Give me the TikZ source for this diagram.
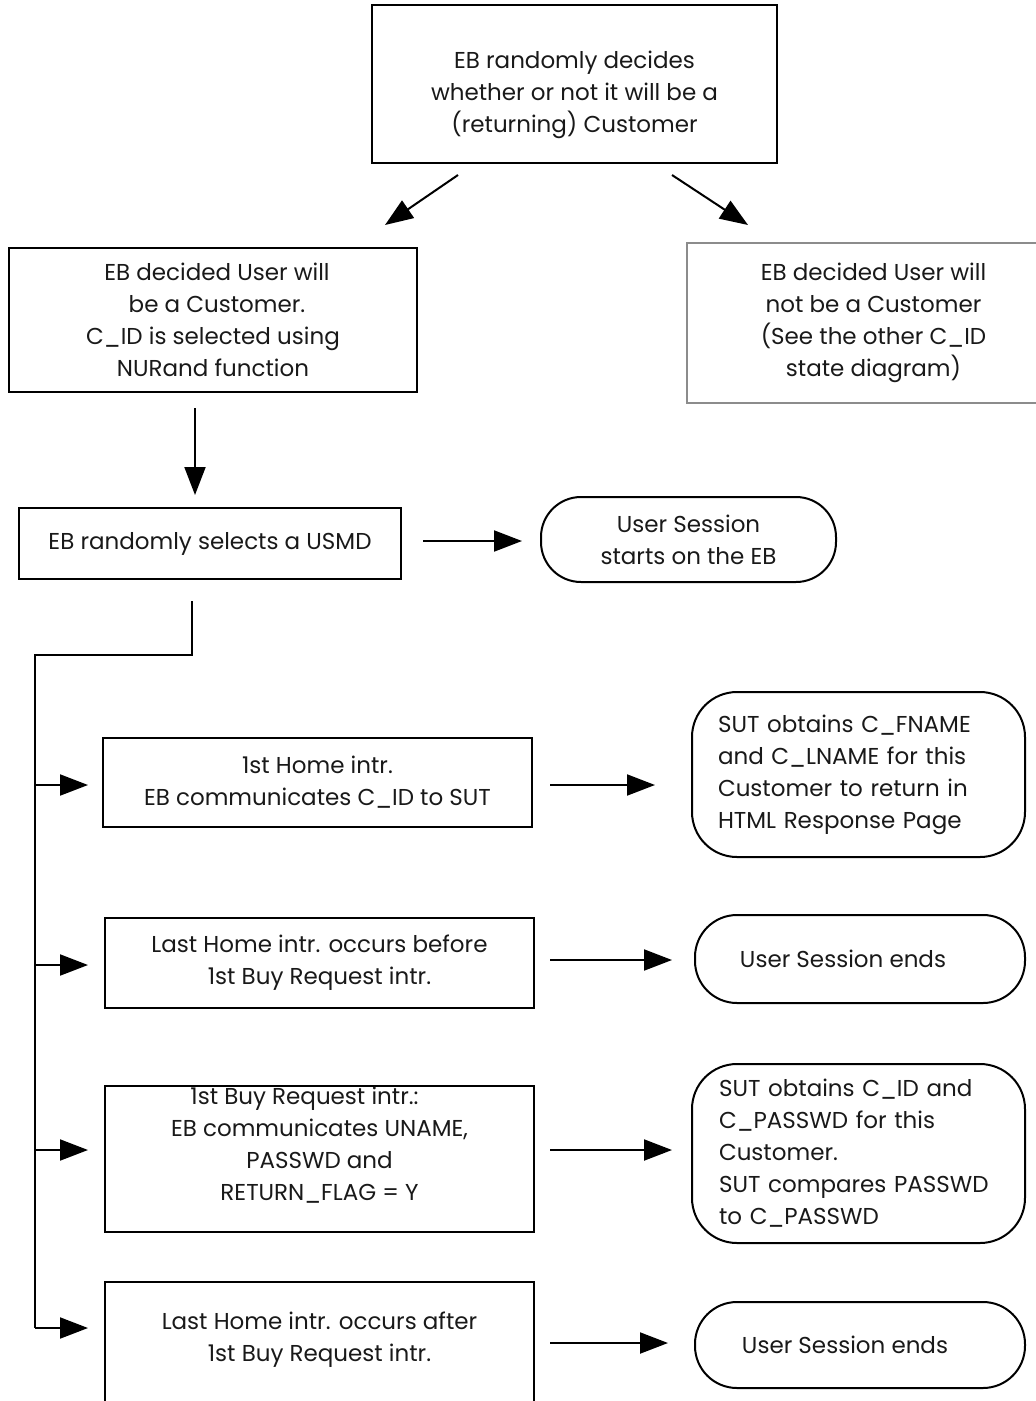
\documentclass[tikz,border=0pt]{standalone}
\usepackage{fontspec}
\setmainfont{Poppins}
\usetikzlibrary{arrows.meta}
\newcommand\diagfont{\fontsize{23}{32}\selectfont}
\begin{document}
\begin{tikzpicture}[x=1pt,y=-1pt,
  every node/.style={font=\diagfont, text=black!90},
  box/.style={draw=black, line width=2pt, rectangle, align=center, inner sep=0pt},
  graybox/.style={draw=black!45, line width=2pt, rectangle, align=center, inner sep=0pt},
  roundbox/.style={draw=black, line width=2pt, rectangle, rounded corners=42pt, align=center, inner sep=0pt},
  leftbox/.style={draw=black, line width=2pt, rectangle, rounded corners=45pt, align=left, inner sep=0pt},
  conn/.style={line width=2pt},
  arr/.style={line width=2pt, -{Triangle[length=28pt,width=21pt]}}]
\useasboundingbox (0,0) rectangle (1036,1401);

\node[box, minimum width=405pt, minimum height=158pt] (top) at (574.5,84)
  {\rule{0pt}{40pt}EB randomly decides\\whether or not it will be a\\(returning) Customer};
\node[box, minimum width=408pt, minimum height=144pt] (cust) at (213,320)
  {\hspace*{8pt}EB decided User will\\\hspace*{8pt}be a Customer.\\C\_ID is selected using\\NURand function};
\node[graybox, minimum width=373pt, minimum height=160pt] (notc) at (873.5,323)
  {EB decided User will\\not be a Customer\\(See the other C\_ID\\state diagram)};
\node[box, minimum width=382pt, minimum height=71pt] (usmd) at (210,543.5)
  {EB randomly selects a USMD};
\node[roundbox, minimum width=295pt, minimum height=85pt, rounded corners=40pt] (start) at (688.5,539.5)
  {User Session\\starts on the EB};

\node[box, minimum width=429pt, minimum height=89pt] (b1) at (317.5,782.5)
  {1st Home intr.\\EB communicates C\_ID to SUT};
\node[leftbox, minimum width=333pt, minimum height=165pt, text width=281pt] (s1) at (858.5,774.5)
  {SUT obtains C\_FNAME\\and C\_LNAME for this\\Customer to return in\\HTML Response Page};

\node[box, minimum width=429pt, minimum height=90pt] (b2) at (319.5,963)
  {Last Home intr. occurs before\\1st Buy Request intr.};
\node[roundbox, minimum width=330pt, minimum height=88pt] (s2) at (860,959)
  {User Session ends\hspace*{34pt}};

\node[box, minimum width=429pt, minimum height=146pt] (b3) at (319.5,1159)
  {1st Buy Request intr.:\hspace*{30pt}\\EB communicates UNAME,\\PASSWD and\\RETURN\_FLAG = Y\rule[-30pt]{0pt}{1pt}};
\node[leftbox, minimum width=333pt, minimum height=179pt, text width=279pt] (s3) at (858.5,1153.5)
  {SUT obtains C\_ID and\\C\_PASSWD for this\\Customer.\\SUT compares PASSWD\\to C\_PASSWD};

\node[box, minimum width=429pt, minimum height=130pt] (b4) at (319.5,1347)
  {Last Home intr. occurs after\\1st Buy Request intr.\rule[-20pt]{0pt}{1pt}};
\node[roundbox, minimum width=330pt, minimum height=86pt] (s4) at (860,1345)
  {User Session ends\hspace*{30pt}};

% connector end points
\coordinate (ta) at (458,175);  \coordinate (tb) at (385,225);
\coordinate (tc) at (672,175);  \coordinate (td) at (748,225);
\coordinate (ca) at (195,408);  \coordinate (cb) at (195,495);
\coordinate (ua) at (423,541);  \coordinate (ub) at (522,541);
\coordinate (bus0) at (192,601); \coordinate (bus1) at (192,655);
\coordinate (bus2) at (35,655);  \coordinate (bus3) at (35,1328);
\coordinate (j1) at (35,785);   \coordinate (e1) at (88,785);
\coordinate (j2) at (35,965);   \coordinate (e2) at (88,965);
\coordinate (j3) at (35,1150);  \coordinate (e3) at (88,1150);
\coordinate (e4) at (88,1328);
\coordinate (r1a) at (550,785);  \coordinate (r1b) at (655,785);
\coordinate (r2a) at (550,960);  \coordinate (r2b) at (672,960);
\coordinate (r3a) at (550,1150); \coordinate (r3b) at (672,1150);
\coordinate (r4a) at (550,1343); \coordinate (r4b) at (668,1343);

\draw[arr] (ta) -- (tb);
\draw[arr] (tc) -- (td);
\draw[arr] (ca) -- (cb);
\draw[arr] (ua) -- (ub);
\draw[conn] (bus0) -- (bus1) -- (bus2) -- (bus3);
\draw[arr] (j1) -- (e1);
\draw[arr] (j2) -- (e2);
\draw[arr] (j3) -- (e3);
\draw[arr] (bus3) -- (e4);
\draw[arr] (r1a) -- (r1b);
\draw[arr] (r2a) -- (r2b);
\draw[arr] (r3a) -- (r3b);
\draw[arr] (r4a) -- (r4b);
\end{tikzpicture}
\end{document}
